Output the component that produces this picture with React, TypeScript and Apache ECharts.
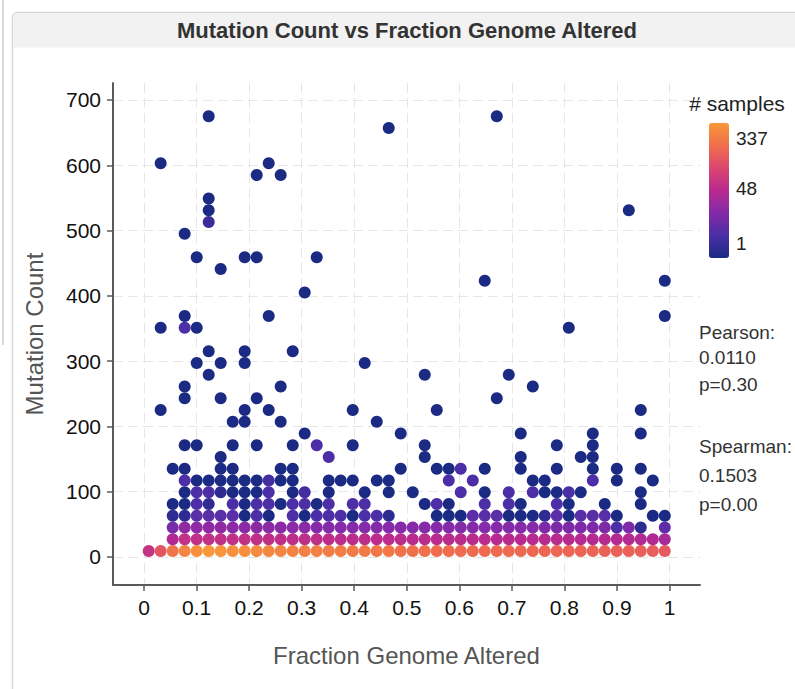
import React, { useEffect, useRef } from "react";
import * as echarts from "echarts";

// Bin centres (fraction genome altered) for each column of the density plot
const fgaBinCenters = [
  0.0089, 0.0317, 0.0546, 0.0774, 0.1003, 0.1231, 0.1459, 0.1688, 0.1916, 0.2145,
  0.2373, 0.2601, 0.283, 0.3058, 0.3287, 0.3515, 0.3743, 0.3972, 0.42, 0.4429,
  0.4657, 0.4885, 0.5114, 0.5342, 0.5571, 0.5799, 0.6027, 0.6256, 0.6484, 0.6713,
  0.6941, 0.7169, 0.7398, 0.7626, 0.7855, 0.8083, 0.8311, 0.854, 0.8768, 0.8997,
  0.9225, 0.9453, 0.9682, 0.991,
];

// Bin centres (mutation count) for each row
const mutationBinCenters = [
  9, 27, 45, 63, 81, 99, 117, 135, 153, 171, 189, 207, 225, 243, 261, 279, 297, 315, 333,
  351, 369, 387, 405, 423, 441, 459, 477, 495, 513, 531, 549, 567, 585, 603, 621, 639,
  657, 675,
];

// For each FGA column: [row index, number of samples]
const columnBins: [number, number][][] = [
  [[0, 55]],
  [[0, 120], [12, 1], [19, 1], [33, 1]],
  [[0, 200], [1, 35], [2, 12], [3, 2], [4, 1], [7, 1]],
  [[0, 260], [1, 50], [2, 20], [3, 2], [4, 1], [5, 1], [6, 5], [7, 1], [9, 1], [13, 1], [14, 1], [19, 5], [20, 1], [27, 1]],
  [[0, 300], [1, 50], [2, 20], [3, 7], [4, 5], [5, 5], [6, 1], [9, 1], [16, 1], [19, 1], [25, 1]],
  [[0, 337], [1, 50], [2, 20], [3, 7], [4, 2], [5, 5], [6, 1], [15, 1], [17, 1], [28, 3], [29, 1], [30, 1], [37, 1]],
  [[0, 320], [1, 50], [2, 20], [3, 7], [5, 2], [6, 1], [7, 1], [8, 1], [13, 1], [16, 1], [24, 1]],
  [[0, 300], [1, 50], [2, 18], [3, 7], [4, 5], [5, 1], [6, 1], [7, 1], [9, 1], [11, 1]],
  [[0, 290], [1, 50], [2, 18], [3, 1], [4, 1], [5, 1], [6, 1], [11, 1], [12, 1], [16, 1], [17, 1], [25, 1]],
  [[0, 280], [1, 48], [2, 18], [3, 5], [4, 5], [5, 1], [6, 1], [9, 1], [13, 1], [25, 1], [32, 1]],
  [[0, 270], [1, 48], [2, 18], [3, 1], [4, 5], [5, 5], [6, 4], [12, 1], [20, 1], [33, 1]],
  [[0, 260], [1, 48], [2, 18], [4, 1], [6, 1], [7, 1], [11, 1], [14, 1], [32, 1]],
  [[0, 250], [1, 46], [2, 18], [3, 5], [4, 5], [5, 1], [6, 1], [7, 1], [9, 1], [17, 1]],
  [[0, 240], [1, 46], [2, 18], [3, 1], [4, 5], [5, 4], [10, 1], [22, 1]],
  [[0, 240], [1, 46], [2, 16], [3, 5], [4, 1], [9, 5], [25, 1]],
  [[0, 230], [1, 45], [2, 16], [3, 5], [4, 5], [5, 1], [6, 1], [8, 5]],
  [[0, 230], [1, 45], [2, 16], [3, 5], [6, 1]],
  [[0, 220], [1, 45], [2, 16], [3, 1], [4, 5], [6, 1], [9, 1], [12, 1]],
  [[0, 220], [1, 45], [2, 16], [3, 5], [4, 5], [5, 1], [16, 1]],
  [[0, 210], [1, 44], [2, 16], [3, 5], [6, 1], [11, 1]],
  [[0, 210], [1, 44], [2, 16], [3, 2], [5, 1], [6, 1], [36, 1]],
  [[0, 195], [1, 44], [2, 16], [7, 1], [10, 1]],
  [[0, 190], [1, 42], [2, 16], [5, 1]],
  [[0, 185], [1, 42], [2, 16], [4, 1], [8, 1], [9, 1], [15, 1]],
  [[0, 180], [1, 42], [2, 16], [3, 1], [4, 5], [7, 1], [12, 1]],
  [[0, 180], [1, 42], [2, 16], [3, 1], [4, 1], [6, 5], [7, 1]],
  [[0, 175], [1, 42], [2, 16], [3, 1], [5, 5], [7, 5]],
  [[0, 175], [1, 42], [2, 16], [3, 7], [6, 5]],
  [[0, 170], [1, 42], [2, 16], [3, 7], [4, 5], [5, 1], [7, 1], [23, 1]],
  [[0, 170], [1, 40], [2, 16], [3, 7], [13, 1], [37, 1]],
  [[0, 170], [1, 40], [2, 16], [3, 1], [4, 5], [5, 5], [15, 1]],
  [[0, 165], [1, 40], [2, 16], [3, 1], [4, 1], [7, 1], [8, 1], [10, 1]],
  [[0, 165], [1, 40], [2, 16], [3, 1], [5, 5], [6, 1], [14, 1]],
  [[0, 160], [1, 40], [2, 14], [3, 2], [5, 1], [6, 1]],
  [[0, 160], [1, 40], [2, 14], [3, 7], [4, 5], [5, 1], [7, 1], [9, 1]],
  [[0, 160], [1, 40], [2, 14], [3, 1], [4, 1], [5, 5], [19, 1]],
  [[0, 155], [1, 38], [2, 14], [3, 7], [5, 1], [8, 1]],
  [[0, 155], [1, 38], [2, 14], [3, 7], [6, 5], [7, 1], [8, 1], [9, 1], [10, 1]],
  [[0, 150], [1, 38], [2, 14], [3, 7], [4, 1]],
  [[0, 150], [1, 38], [2, 5], [3, 1], [6, 1], [7, 1]],
  [[0, 150], [1, 38], [2, 14], [29, 1]],
  [[0, 145], [1, 36], [2, 2], [4, 1], [5, 1], [7, 1], [10, 1], [12, 1]],
  [[0, 140], [1, 36], [3, 1], [6, 1]],
  [[0, 130], [1, 30], [2, 8], [3, 1], [20, 1], [23, 1]],
];

const xTickValues = [0, 0.1, 0.2, 0.3, 0.4, 0.5, 0.6, 0.7, 0.8, 0.9, 1];
const yTickValues = [0, 100, 200, 300, 400, 500, 600, 700];
const colorbarTickLabels = ["337", "48", "1"];
const colorbarMax = 337;
const correlationLines = ["Pearson:", "0.0110", "p=0.30", "Spearman:", "0.1503", "p=0.00"];

const FONT = '"Liberation Sans", Arial, Helvetica, sans-serif';
const colorPower = 0.2;

export default function App() {
  const ref = useRef<HTMLDivElement>(null);

  useEffect(() => {
    if (!ref.current) return;
    const chart = echarts.init(ref.current, undefined, { renderer: "svg" });

    const data: number[][] = [];
    columnBins.forEach((col, k) => {
      col.forEach(([j, count]) => {
        data.push([fgaBinCenters[k], mutationBinCenters[j], Math.pow(count, colorPower), count]);
      });
    });

    const cbLabelY = [138, 188, 243];
    const corrY = [332, 357, 384, 446, 475, 504];

    const option: any = {
      animation: false,
      backgroundColor: "#ffffff",
      textStyle: { fontFamily: FONT },
      grid: { left: 113, top: 83, right: 95, bottom: 104, containLabel: false },
      xAxis: {
        type: "value",
        min: -0.059,
        max: 1.058,
        name: "Fraction Genome Altered",
        nameLocation: "middle",
        nameGap: 58,
        nameTextStyle: { fontSize: 24, color: "#555", fontFamily: FONT },
        axisLine: { show: true, onZero: false, lineStyle: { color: "#5a5a5a", width: 2 } },
        axisTick: { show: true, customValues: xTickValues, length: 6, lineStyle: { color: "#5a5a5a", width: 1.5 } },
        axisLabel: { customValues: xTickValues, fontSize: 21, color: "#111", margin: 12, fontFamily: FONT },
        splitLine: { show: true, lineStyle: { type: [10, 5], color: "#e6e6e6", width: 1 } },
      },
      yAxis: {
        type: "value",
        min: -43,
        max: 726,
        name: "Mutation Count",
        nameLocation: "middle",
        nameGap: 67,
        nameTextStyle: { fontSize: 24, color: "#555", fontFamily: FONT },
        axisLine: { show: true, onZero: false, lineStyle: { color: "#5a5a5a", width: 2 } },
        axisTick: { show: true, customValues: yTickValues, length: 6, lineStyle: { color: "#5a5a5a", width: 1.5 } },
        axisLabel: { customValues: yTickValues, fontSize: 21, color: "#111", margin: 12, fontFamily: FONT },
        splitLine: { show: true, lineStyle: { type: [10, 5], color: "#e6e6e6", width: 1 } },
      },
      visualMap: {
        type: "continuous",
        dimension: 2,
        min: 1,
        max: Math.pow(colorbarMax, colorPower),
        orient: "vertical",
        left: 709,
        top: 123,
        itemWidth: 20,
        itemHeight: 135,
        padding: 0,
        calculable: false,
        inRange: {
          color: ["#1b2a83", "#4a2ea6", "#842aa8", "#b82a8e", "#dc4670", "#f06e4c", "#f8983a"],
        },
      },
      series: [
        {
          type: "scatter",
          symbol: "circle",
          symbolSize: 12,
          data,
          itemStyle: { opacity: 1 },
        },
      ],
      graphic: [
        { type: "line", shape: { x1: 3, y1: 0, x2: 3, y2: 345 }, style: { stroke: "#cfcfcf", lineWidth: 1.5 }, z: -20 },
        {
          type: "rect",
          shape: { x: 12.5, y: 12.5, width: 800, height: 700, r: 5 },
          style: { fill: "#ffffff", stroke: "#d8d8d8", lineWidth: 1.5 },
          z: -20,
        },
        {
          type: "rect",
          shape: { x: 13.5, y: 13.5, width: 800, height: 34, r: [5, 0, 0, 0] },
          style: { fill: "#f2f2f2" },
          z: -19,
        },
        {
          type: "text",
          x: 407,
          y: 30,
          style: {
            text: "Mutation Count vs Fraction Genome Altered",
            fontSize: 22,
            fontWeight: "bold",
            fontFamily: FONT,
            fill: "#333",
            align: "center",
            verticalAlign: "middle",
          },
        },
        {
          type: "text",
          x: 737,
          y: 103,
          style: {
            text: "# samples",
            fontSize: 21,
            fontFamily: FONT,
            fill: "#222",
            align: "center",
            verticalAlign: "middle",
          },
        },
        ...colorbarTickLabels.map((t, i) => ({
          type: "text",
          x: 736,
          y: cbLabelY[i],
          style: { text: t, fontSize: 19, fontFamily: FONT, fill: "#222", align: "left", verticalAlign: "middle" },
        })),
        ...correlationLines.map((t, i) => ({
          type: "text",
          x: 699,
          y: corrY[i],
          style: { text: t, fontSize: 19, fontFamily: FONT, fill: "#333", align: "left", verticalAlign: "middle" },
        })),
      ],
    };

    chart.setOption(option);
    return () => chart.dispose();
  }, []);

  return (
    <div
      ref={ref}
      style={{ position: "fixed", left: 0, top: 0, width: 795, height: 689, background: "#fff" }}
    />
  );
}
